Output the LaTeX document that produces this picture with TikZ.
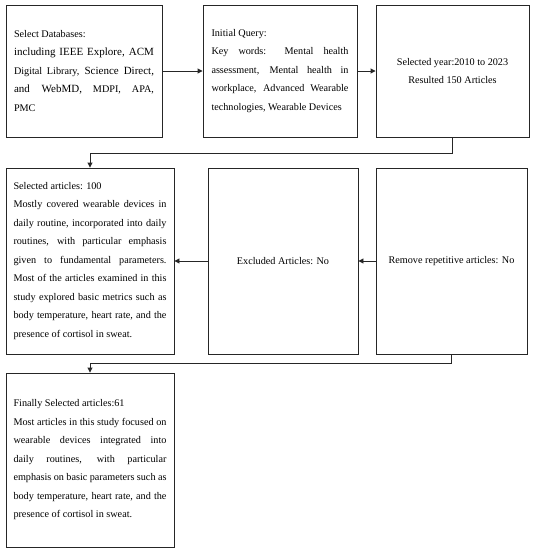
\documentclass[tikz,border=0pt]{standalone}
\usepackage{fontspec}
\setmainfont{Liberation Serif}
\usetikzlibrary{arrows.meta}
\newcommand{\bigwd}[1]{{\fontsize{11}{18.5}\selectfont #1}}
\begin{document}
\begin{tikzpicture}[x=1pt,y=-1pt,line join=miter,>={Triangle[length=5pt,width=5pt]}]
\tikzset{box/.style={draw=black!85,line width=0.9pt,inner sep=0pt,font=\fontsize{10.2}{18.5}\selectfont},
para/.style={box,align=justify}}
\useasboundingbox (0,0) rectangle (535,550);
% first row
\node[para,minimum width=156,minimum height=132,text width=140] (db) at (84,71)
{Select Databases:\\ \bigwd{including IEEE Explore, ACM}\linebreak Digital Library, \bigwd{Science Direct,}\linebreak \bigwd{and WebMD,} MDPI, APA,\linebreak PMC};
\node[para,minimum width=154,minimum height=132,text width=137] (qry) at (280,71)
{Initial Query:\\ Key words: Mental health\linebreak assessment, Mental health in\linebreak workplace, Advanced Wearable\linebreak technologies, Wearable Devices};
\node[box,align=center,minimum width=153,minimum height=132] (yr) at (452.5,71)
{Selected year:2010 to 2023\\ Resulted 150 Articles};
% second row
\node[para,minimum width=168,minimum height=186,text width=153] (sel) at (90,261)
{Selected articles: 100\\ Mostly covered wearable devices in\linebreak daily routine, incorporated into daily\linebreak routines, with particular emphasis\linebreak given to fundamental parameters.\linebreak Most of the articles examined in this\linebreak study explored basic metrics such as\linebreak body temperature, heart rate, and the\linebreak presence of cortisol in sweat.};
\node[box,minimum width=150,minimum height=186] (exc) at (283,261) {Excluded Articles: No};
\node[box,minimum width=151,minimum height=186] (rep) at (451.5,261) {Remove repetitive articles: No};
% last box
\node[para,minimum width=168,minimum height=174,text width=153] (fin) at (90,460)
{Finally Selected articles:61\\ Most articles in this study focused on\linebreak wearable devices integrated into\linebreak daily routines, with particular\linebreak emphasis on basic parameters such as\linebreak body temperature, heart rate, and the\linebreak presence of cortisol in sweat.};
% connectors
\draw[->,line width=0.9pt,black!85] (db) -- (qry);
\draw[->,line width=0.9pt,black!85] (qry) -- (yr);
\draw[->,line width=0.9pt,black!85] (yr.south) -- ++(0,16) -| (sel.north);
\draw[->,line width=0.9pt,black!85] (rep) -- (exc);
\draw[->,line width=0.9pt,black!85] (exc) -- (sel);
\draw[->,line width=0.9pt,black!85] (rep.south) -- ++(0,9) -| (fin.north);
\end{tikzpicture}
\end{document}
